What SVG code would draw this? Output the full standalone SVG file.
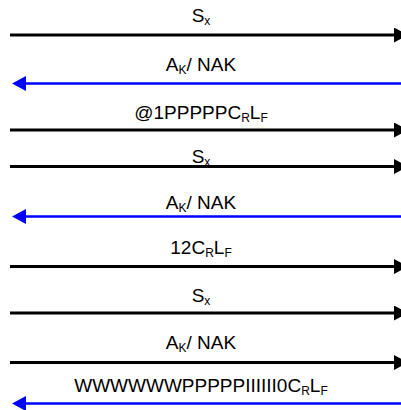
<svg xmlns="http://www.w3.org/2000/svg" width="401" height="410" viewBox="0 0 401 410">
<style>
.lbl{font-family:"Liberation Sans",Arial,sans-serif;font-size:19px;fill:#000;text-anchor:middle}
.sub{font-size:12px}
.fwd{stroke:#000;stroke-width:3;fill:none;marker-end:url(#ahB)}
.bwd{stroke:#0000ff;stroke-width:2.7;fill:none;marker-end:url(#ahU)}
</style>
<defs>
<marker id="ahB" markerUnits="userSpaceOnUse" markerWidth="14" markerHeight="15" viewBox="0 0 14 15" refX="2" refY="7.5" orient="auto"><path d="M0,0 L14,7.5 L0,15 z" fill="#000"/></marker>
<marker id="ahU" markerUnits="userSpaceOnUse" markerWidth="14" markerHeight="15" viewBox="0 0 14 15" refX="2" refY="7.5" orient="auto"><path d="M0,0 L14,7.5 L0,15 z" fill="#0000ff"/></marker>
</defs>
<rect width="401" height="410" fill="#fff"/>
<g id="connectors">
<line id="m1" class="fwd" x1="10" y1="35" x2="396" y2="35"/>
<line id="m2" class="bwd" x1="401" y1="83.5" x2="24" y2="83.5"/>
<line id="m3" class="fwd" x1="10" y1="130" x2="396" y2="130"/>
<line id="m4" class="fwd" x1="10" y1="166.5" x2="396" y2="166.5"/>
<line id="m5" class="bwd" x1="401" y1="216.5" x2="24" y2="216.5"/>
<line id="m6" class="fwd" x1="10" y1="266.5" x2="396" y2="266.5"/>
<line id="m7" class="fwd" x1="10" y1="313" x2="396" y2="313"/>
<line id="m8" class="fwd" x1="10" y1="362.5" x2="396" y2="362.5"/>
<line id="m9" class="bwd" x1="401" y1="403.5" x2="24" y2="403.5"/>
</g>
<g id="labels">
<text id="t1" class="lbl" x="201" y="21.5">S<tspan class="sub" dy="3">x</tspan></text>
<text id="t2" class="lbl" x="201" y="70.5">A<tspan class="sub" dy="3">K</tspan><tspan dy="-3">/ NAK</tspan></text>
<text id="t3" class="lbl" x="201" y="119">@1PPPPPC<tspan class="sub" dy="3">R</tspan><tspan dy="-3">L</tspan><tspan class="sub" dy="3">F</tspan></text>
<text id="t4" class="lbl" x="201" y="162.5">S<tspan class="sub" dy="3">x</tspan></text>
<text id="t5" class="lbl" x="201" y="208.5">A<tspan class="sub" dy="3">K</tspan><tspan dy="-3">/ NAK</tspan></text>
<text id="t6" class="lbl" x="201" y="254">12C<tspan class="sub" dy="3">R</tspan><tspan dy="-3">L</tspan><tspan class="sub" dy="3">F</tspan></text>
<text id="t7" class="lbl" x="201" y="301.5">S<tspan class="sub" dy="3">x</tspan></text>
<text id="t8" class="lbl" x="201" y="348.5">A<tspan class="sub" dy="3">K</tspan><tspan dy="-3">/ NAK</tspan></text>
<text id="t9" class="lbl" x="201" y="392">WWWWWWPPPPPIIIIII0C<tspan class="sub" dy="3">R</tspan><tspan dy="-3">L</tspan><tspan class="sub" dy="3">F</tspan></text>
</g>
</svg>
